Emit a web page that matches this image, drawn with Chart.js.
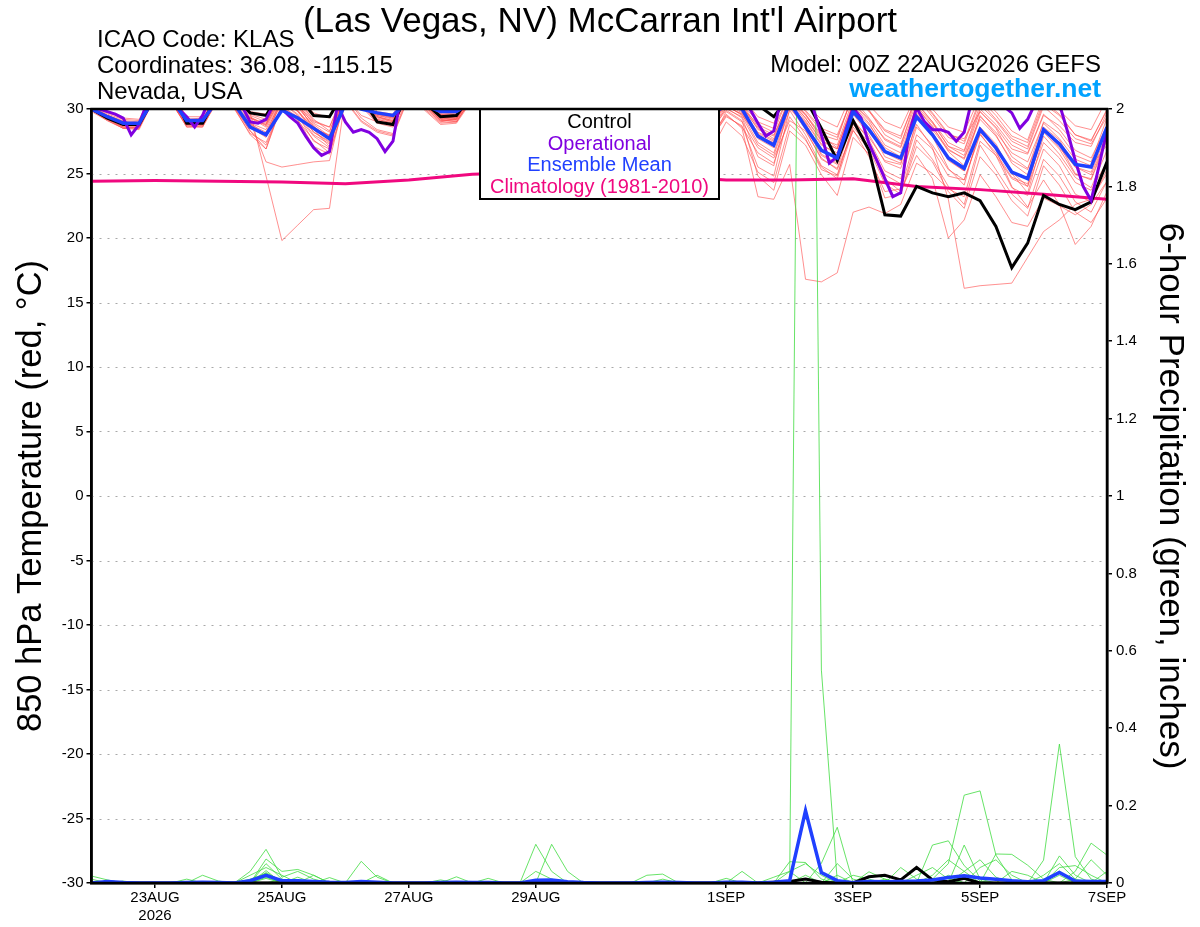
<!DOCTYPE html>
<html lang="en">
<head>
    <meta charset="UTF-8">
    <title>KLAS GEFS 850 hPa Temperature</title>
    <script src="https://cdn.jsdelivr.net/npm/chart.js"></script>
    <style>
        html, body { margin: 0; padding: 0; background: #fff; }
        .chart-box { width: 1200px; height: 927px; position: relative; }
    </style>
</head>
<body>
<div class="chart-box"><canvas id="meteogram" width="1200" height="927"></canvas></div>

<script>
    // forecast hours (6-hourly ensemble, 3-hourly operational, daily climatology)
    const HOURS_6H = Array.from({ length: 65 }, (_, i) => i * 6);
    const HOURS_3H = Array.from({ length: 129 }, (_, j) => j * 3);
    const HOURS_24H = Array.from({ length: 17 }, (_, d) => d * 24);

    const TICK_HOURS = [24, 72, 120, 168, 240, 288, 336, 384];
    const TICK_LABELS = [['23AUG', '2026'], '25AUG', '27AUG', '29AUG', '1SEP', '3SEP', '5SEP', '7SEP'];

    // 850 hPa temperature, deg C
    const CONTROL_T = [
        30.0, 29.3, 28.8, 28.8, 31.0, 31.5, 28.9, 28.9,
        31.2, 31.0, 29.7, 29.5, 31.5, 31.0, 29.5, 29.4,
        31.5, 31.0, 29.0, 28.8, 31.5, 30.5, 29.4, 29.5,
        31.2, 30.8, 29.8, 29.9, 31.3, 30.9, 29.7, 29.9,
        31.2, 30.7, 29.6, 29.8, 31.3, 30.8, 29.8, 30.2,
        31.0, 30.6, 30.3, 29.4, 31.0, 30.8, 28.5, 26.0,
        29.1, 26.8, 21.8, 21.7, 24.0, 23.5, 23.2, 23.5,
        22.9, 20.9, 17.7, 19.6, 23.3, 22.6, 22.2, 22.8,
        25.9
    ];
    const MEAN_T = [
        30.0, 29.4, 28.9, 28.9, 30.9, 30.8, 29.1, 29.1,
        30.8, 30.4, 28.6, 28.0, 29.9, 29.3, 28.5, 27.7,
        30.4, 30.0, 29.7, 29.5, 30.7, 30.3, 29.8, 29.8,
        30.6, 30.2, 29.5, 29.6, 30.7, 30.2, 29.4, 29.6,
        30.6, 30.1, 29.3, 29.5, 30.7, 30.2, 29.2, 29.5,
        30.3, 30.0, 27.9, 27.2, 30.5, 28.6, 26.8, 26.2,
        29.8, 28.4, 26.7, 26.2, 29.4, 28.0, 26.2, 25.4,
        28.4, 27.0, 25.1, 24.6, 28.4, 27.3, 25.7, 25.5,
        28.6
    ];
    const OPERATIONAL_T = [
        30.2, 30.0, 29.8, 29.6, 29.3, 28.0, 28.8, 30.5, 31.2, 31.5,
        31.0, 30.0, 29.4, 28.6, 29.5, 31.0, 31.8, 31.5, 31.0, 30.2,
        29.0, 28.9, 29.2, 30.4, 30.0, 29.4, 28.9, 27.9, 27.0, 26.4,
        26.7, 30.3, 29.0, 28.2, 28.4, 28.2, 27.7, 26.7, 27.5, 31.0,
        31.8, 31.6, 31.0, 30.4, 30.1, 29.9, 29.9, 30.4, 31.2, 31.0,
        30.4, 29.8, 29.5, 29.6, 30.2, 31.0, 31.5, 31.3, 30.8, 30.0,
        29.4, 29.2, 29.5, 30.3, 31.2, 31.5, 31.1, 30.5, 29.8, 29.3,
        29.1, 29.6, 30.5, 31.3, 31.4, 31.0, 30.2, 29.6, 29.4, 29.8,
        31.5, 31.2, 30.6, 30.0, 28.9, 27.9, 28.3, 31.0, 31.6, 31.4,
        30.8, 30.0, 28.0, 25.8, 26.3, 28.2, 30.1, 29.3, 27.3, 26.0,
        24.6, 23.2, 23.5, 28.0, 30.1, 29.0, 28.4, 28.4, 28.2, 27.5,
        28.2, 30.8, 31.5, 31.6, 31.0, 30.2, 29.7, 28.5, 29.2, 30.5,
        31.4, 31.2, 30.4, 28.3, 26.0, 24.0, 22.9, 25.6, 28.4
    ];
    const CLIMO_T = [24.4, 24.45, 24.4, 24.35, 24.2, 24.5, 24.95, 25.1, 25.0, 24.8, 24.5, 24.5, 24.6, 24.0, 23.75, 23.4, 23.0];

    const TEMP_MEMBERS = [
        [30.1, 29.4, 28.9, 28.7, 31.2, 31.0, 28.8, 29.0, 31.3, 30.8, 29.6, 29.2, 31.4, 30.5, 29.0, 28.6,
         31.6, 30.9, 29.4, 29.1, 31.5, 30.4, 29.3, 29.2, 31.2, 30.6, 29.5, 29.6, 31.4, 30.8, 29.3, 29.5,
         31.0, 30.5, 28.9, 29.2, 31.2, 30.7, 29.4, 29.8, 30.9, 30.3, 28.4, 27.9, 30.8, 29.3, 27.5, 26.9,
         30.4, 29.1, 27.2, 26.6, 30.1, 28.6, 26.9, 26.1, 29.2, 27.9, 26.0, 25.3, 29.0, 28.1, 26.4, 25.9, 29.3],
        [29.9, 29.2, 28.6, 28.6, 31.0, 30.6, 28.7, 28.8, 30.9, 30.2, 28.3, 27.2, 30.2, 29.4, 27.9, 27.0,
         31.0, 29.3, 28.4, 28.1, 31.2, 30.1, 29.0, 29.3, 31.0, 30.2, 28.8, 29.0, 30.8, 30.1, 28.5, 28.8,
         30.6, 29.8, 28.2, 28.5, 30.9, 30.1, 28.8, 29.1, 30.2, 29.6, 27.4, 26.6, 30.2, 28.4, 26.1, 25.4,
         29.2, 27.6, 25.2, 24.6, 28.6, 27.2, 25.3, 24.5, 28.0, 26.6, 24.7, 24.2, 28.2, 26.9, 24.9, 24.6, 27.8],
        [30.0, 29.5, 29.0, 28.9, 31.1, 30.9, 29.0, 29.1, 31.0, 30.6, 29.7, 24.8, 19.8, 21.0, 22.2, 22.3,
         31.0, 30.6, 29.2, 28.9, 31.0, 30.3, 29.4, 29.5, 31.3, 30.9, 29.8, 29.7, 31.6, 31.0, 30.2, 29.9,
         31.4, 30.6, 29.5, 29.8, 31.1, 30.5, 29.6, 29.9, 30.7, 30.1, 28.8, 28.2, 31.2, 29.8, 28.3, 27.8,
         31.1, 29.9, 28.4, 27.9, 30.9, 29.4, 27.8, 27.3, 30.6, 29.2, 27.7, 27.1, 30.4, 29.5, 28.0, 27.5, 30.0],
        [30.2, 29.4, 28.8, 28.8, 31.3, 31.0, 28.9, 28.7, 31.0, 30.4, 29.0, 25.9, 25.5, 25.7, 25.9, 26.0,
         31.0, 30.6, 29.5, 29.3, 31.4, 30.6, 29.6, 29.4, 31.2, 30.5, 29.6, 29.7, 31.1, 30.4, 29.4, 29.8,
         31.0, 30.2, 29.1, 29.5, 31.0, 30.3, 28.6, 27.8, 29.6, 28.5, 23.2, 23.0, 25.7, 16.8, 16.6, 17.3,
         22.0, 22.4, 21.9, 22.6, 25.8, 25.0, 23.8, 23.2, 27.5, 26.4, 24.6, 24.0, 28.4, 27.0, 25.5, 24.9, 27.8],
        [30.0, 29.3, 28.7, 28.7, 31.0, 30.8, 29.1, 29.0, 30.9, 30.3, 28.9, 28.4, 31.0, 30.1, 28.7, 27.6,
         30.8, 30.2, 28.9, 28.6, 31.1, 30.2, 29.2, 29.0, 30.9, 30.3, 29.0, 29.3, 31.2, 30.5, 29.2, 29.4,
         31.0, 30.4, 29.2, 29.5, 31.2, 30.4, 29.0, 29.1, 30.5, 29.8, 27.7, 27.0, 30.4, 28.9, 26.5, 25.8,
         29.6, 28.0, 25.9, 25.4, 28.8, 27.0, 23.0, 16.1, 16.3, 16.4, 16.5, 18.5, 20.5, 21.4, 22.6, 23.0, 25.0],
        [30.1, 29.5, 29.1, 29.0, 31.4, 31.2, 29.2, 29.1, 31.3, 30.7, 29.3, 28.9, 31.2, 30.4, 28.4, 27.1,
         31.3, 30.7, 29.6, 29.3, 31.4, 30.5, 29.5, 29.6, 31.3, 30.6, 29.5, 29.6, 31.2, 30.6, 29.6, 29.8,
         31.4, 30.8, 29.9, 30.1, 31.5, 30.9, 29.8, 29.9, 30.8, 30.1, 28.5, 27.7, 30.9, 29.5, 27.9, 27.0,
         30.3, 28.9, 26.8, 26.1, 29.6, 28.2, 26.1, 25.2, 28.4, 26.8, 24.0, 22.4, 24.5, 22.6, 19.5, 20.9, 23.6],
        [29.9, 29.2, 28.6, 28.5, 31.0, 30.7, 28.6, 28.7, 31.0, 30.6, 28.6, 27.8, 30.8, 29.9, 28.2, 27.4,
         31.2, 30.5, 29.1, 28.8, 31.2, 30.3, 29.1, 29.2, 31.0, 30.4, 29.2, 29.3, 31.1, 30.4, 29.1, 29.3,
         30.9, 30.2, 28.9, 29.2, 30.8, 30.2, 28.9, 28.6, 30.0, 29.4, 27.2, 26.4, 29.9, 28.0, 25.6, 24.9,
         28.6, 27.1, 24.6, 23.6, 26.4, 24.6, 20.0, 21.4, 24.9, 23.2, 21.2, 20.9, 23.1, 22.5, 21.8, 22.6, 24.4],
        [30.3, 29.7, 29.3, 29.2, 31.6, 31.4, 29.4, 29.4, 31.5, 31.0, 29.8, 29.6, 31.7, 31.1, 29.7, 29.3,
         31.8, 31.2, 29.8, 29.6, 31.7, 30.8, 29.7, 29.9, 31.6, 31.0, 30.0, 30.1, 31.7, 31.1, 30.2, 30.3,
         31.8, 31.2, 30.4, 30.5, 31.9, 31.3, 30.5, 30.4, 31.4, 30.9, 29.4, 28.9, 31.6, 30.4, 29.2, 28.6,
         31.5, 30.3, 29.0, 28.5, 31.2, 30.0, 28.6, 28.2, 31.0, 29.8, 28.3, 27.6, 30.9, 29.9, 28.7, 28.4, 30.8],
        [30.0, 29.2, 28.5, 28.4, 30.9, 30.6, 28.6, 28.6, 30.8, 30.1, 28.0, 26.9, 30.3, 29.2, 27.1, 26.5,
         30.6, 29.0, 28.2, 27.9, 30.9, 29.9, 28.8, 28.9, 30.7, 30.0, 28.7, 28.9, 30.8, 30.0, 28.6, 28.8,
         30.6, 29.9, 28.5, 28.7, 30.7, 30.0, 28.3, 27.6, 29.5, 28.6, 26.6, 25.8, 29.4, 27.7, 25.3, 24.8,
         28.8, 27.4, 24.9, 24.2, 29.3, 27.9, 25.4, 24.1, 28.6, 27.3, 25.0, 23.5, 27.9, 26.5, 24.7, 23.9, 26.8],
        [30.2, 29.6, 29.2, 29.1, 31.4, 31.1, 29.1, 29.2, 31.3, 30.8, 29.5, 29.0, 31.3, 30.7, 29.2, 28.3,
         31.5, 30.9, 29.6, 29.4, 31.6, 30.7, 29.6, 29.7, 31.2, 30.5, 29.6, 29.7, 31.4, 30.8, 29.8, 30.0,
         31.5, 30.9, 29.9, 30.1, 31.3, 30.6, 29.4, 29.6, 31.0, 30.4, 28.6, 28.0, 30.6, 29.6, 27.7, 27.2,
         30.8, 29.3, 27.6, 27.0, 30.2, 28.9, 27.1, 26.4, 29.8, 28.6, 26.9, 26.5, 29.5, 28.7, 27.4, 27.1, 29.7],
        [29.8, 29.1, 28.5, 28.6, 30.8, 30.5, 28.8, 28.9, 31.0, 30.4, 28.6, 28.1, 30.9, 29.9, 28.4, 28.0,
         30.9, 30.3, 29.0, 28.7, 31.2, 30.3, 29.1, 29.1, 30.8, 30.1, 28.8, 28.9, 30.9, 30.2, 28.8, 29.0,
         30.8, 30.0, 28.7, 28.9, 30.6, 29.9, 28.1, 27.4, 29.8, 29.0, 27.0, 26.2, 29.1, 28.3, 26.2, 25.3,
         28.3, 26.9, 24.2, 23.4, 27.6, 26.1, 24.0, 22.6, 27.2, 25.3, 23.4, 22.3, 26.1, 24.8, 22.8, 22.0, 24.4],
        [30.1, 29.4, 28.8, 28.9, 31.2, 30.9, 29.0, 28.9, 31.1, 30.7, 29.4, 28.7, 31.0, 30.3, 28.9, 28.2,
         31.4, 30.6, 29.3, 29.0, 31.3, 30.6, 29.4, 29.3, 31.1, 30.5, 29.3, 29.4, 31.0, 30.3, 29.2, 29.4,
         31.2, 30.5, 29.4, 29.6, 31.1, 30.4, 29.1, 28.7, 30.3, 29.5, 27.9, 27.4, 30.6, 29.1, 27.3, 26.4,
         29.9, 28.5, 26.3, 25.8, 30.1, 28.7, 26.7, 25.6, 29.5, 28.0, 25.8, 24.9, 28.6, 27.6, 25.5, 25.1, 28.1],
        [30.0, 29.3, 28.9, 28.8, 31.1, 30.8, 28.9, 29.1, 31.0, 30.2, 28.9, 28.0, 30.5, 29.6, 28.0, 27.3,
         31.0, 30.4, 29.2, 28.9, 31.3, 30.4, 29.3, 29.4, 31.0, 30.3, 29.1, 29.2, 31.2, 30.4, 29.0, 29.1,
         31.0, 30.4, 29.1, 29.2, 30.9, 30.1, 28.4, 27.6, 29.4, 28.7, 25.5, 24.8, 30.0, 28.8, 26.9, 26.2,
         29.0, 27.8, 26.0, 25.7, 29.7, 28.4, 26.8, 26.2, 29.4, 28.2, 26.6, 25.9, 28.9, 27.7, 26.1, 25.6, 27.2],
        [30.2, 29.5, 29.0, 28.9, 31.3, 31.0, 29.2, 29.2, 31.2, 30.5, 28.7, 27.9, 30.7, 29.8, 28.6, 27.9,
         31.1, 30.6, 29.5, 29.2, 31.5, 30.7, 29.5, 29.5, 31.3, 30.6, 29.6, 29.8, 31.5, 30.9, 29.7, 29.9,
         31.3, 30.7, 29.6, 29.8, 31.2, 30.5, 29.2, 28.9, 30.4, 29.7, 28.1, 27.5, 30.3, 29.0, 27.2, 26.6,
         30.0, 28.8, 27.0, 26.3, 29.9, 28.1, 26.0, 25.2, 28.2, 27.0, 25.1, 24.0, 27.4, 26.2, 24.3, 23.7, 25.9],
        [30.0, 29.3, 28.6, 28.6, 31.0, 30.8, 28.9, 28.8, 30.9, 30.1, 28.3, 26.9, 30.5, 29.5, 27.5, 26.9,
         31.0, 29.5, 29.0, 28.8, 31.1, 30.2, 29.0, 29.0, 30.9, 30.2, 28.9, 29.1, 31.0, 30.3, 28.9, 29.0,
         30.9, 30.2, 28.8, 29.0, 30.8, 30.0, 28.6, 28.3, 29.9, 29.1, 24.8, 23.7, 28.3, 27.2, 24.9, 23.3,
         27.8, 26.5, 23.1, 23.4, 27.1, 25.9, 23.6, 22.3, 26.3, 24.9, 22.9, 21.7, 25.6, 24.1, 22.0, 21.2, 23.1],
        [30.1, 29.4, 28.7, 28.7, 31.2, 31.0, 29.1, 29.0, 31.1, 30.5, 29.1, 28.8, 31.3, 30.4, 28.8, 27.9,
         31.3, 30.7, 29.4, 29.0, 31.3, 30.5, 29.3, 29.2, 31.1, 30.4, 29.3, 29.5, 31.3, 30.6, 29.5, 29.7,
         31.1, 30.5, 29.3, 29.5, 31.0, 30.4, 29.0, 28.5, 30.2, 29.6, 28.0, 27.3, 31.0, 29.6, 28.0, 27.6,
         31.3, 29.9, 28.0, 27.3, 30.5, 29.0, 27.4, 26.8, 30.3, 29.1, 27.5, 26.9, 30.2, 29.1, 27.7, 27.3, 29.4],
        [29.9, 29.1, 28.5, 28.5, 30.9, 30.6, 28.7, 28.6, 30.8, 30.0, 28.1, 27.4, 30.2, 29.1, 27.6, 26.6,
         30.7, 29.1, 28.3, 28.0, 31.0, 30.0, 28.9, 29.0, 30.8, 30.0, 28.8, 29.0, 30.9, 30.1, 28.7, 28.9,
         30.7, 30.0, 28.6, 28.7, 30.5, 29.7, 27.6, 26.7, 29.0, 27.9, 25.1, 24.3, 28.8, 27.6, 25.5, 24.6,
         28.4, 26.3, 23.6, 23.8, 28.0, 26.9, 24.8, 24.5, 28.1, 26.4, 23.9, 23.3, 26.9, 25.6, 23.4, 22.8, 25.3],
        [30.1, 29.5, 29.0, 28.9, 31.2, 31.0, 29.0, 29.1, 31.2, 30.6, 29.3, 28.6, 31.1, 30.2, 28.6, 27.8,
         31.2, 30.5, 29.4, 29.1, 31.4, 30.6, 29.4, 29.3, 31.2, 30.5, 29.4, 29.6, 31.3, 30.6, 29.4, 29.6,
         31.2, 30.5, 29.4, 29.6, 31.1, 30.5, 29.0, 28.8, 30.6, 29.9, 28.2, 27.6, 30.4, 28.6, 26.4, 25.7,
         29.6, 28.3, 26.6, 26.0, 30.4, 29.0, 27.1, 26.7, 30.0, 28.8, 27.2, 26.6, 29.6, 28.4, 26.8, 26.2, 28.7],
        [30.0, 29.3, 28.8, 28.7, 31.1, 30.9, 28.8, 28.9, 31.0, 30.3, 28.8, 28.2, 30.8, 29.8, 28.2, 27.5,
         30.9, 30.3, 29.1, 28.7, 31.2, 30.4, 29.2, 29.2, 31.0, 30.2, 29.0, 29.1, 31.0, 30.3, 29.0, 29.2,
         31.0, 30.3, 29.0, 29.2, 30.9, 30.2, 28.7, 28.1, 30.1, 29.3, 26.3, 25.6, 30.6, 29.3, 27.6, 26.9,
         30.5, 29.2, 27.7, 27.1, 31.0, 29.6, 28.0, 27.7, 29.8, 28.5, 26.3, 25.4, 28.3, 27.2, 25.0, 24.5, 27.6],
        [30.2, 29.5, 28.9, 28.8, 31.3, 31.1, 29.2, 29.3, 31.2, 30.6, 29.3, 28.8, 31.4, 30.7, 29.1, 28.6,
         31.4, 30.8, 29.6, 29.4, 31.5, 30.7, 29.6, 29.6, 31.4, 30.8, 29.8, 29.9, 31.5, 30.9, 29.9, 30.0,
         31.4, 30.8, 29.7, 29.9, 31.3, 30.7, 29.5, 29.4, 31.1, 30.4, 29.0, 28.5, 31.2, 29.9, 28.5, 28.0,
         31.0, 29.8, 28.3, 27.7, 31.1, 29.7, 28.1, 27.5, 30.8, 29.5, 27.9, 27.4, 30.6, 29.6, 28.0, 27.6, 29.9]
    ];

    // 6-hour precipitation, inches
    const CONTROL_P = [
        0, 0, 0, 0, 0, 0, 0, 0, 0, 0, 0, 0, 0,
        0, 0, 0, 0, 0, 0, 0, 0, 0, 0, 0, 0, 0,
        0, 0, 0, 0, 0, 0, 0, 0, 0, 0, 0, 0, 0,
        0, 0, 0, 0, 0.002, 0.004, 0.010, 0.002, 0, 0, 0.016, 0.020, 0.008,
        0.040, 0.008, 0.003, 0.012, 0, 0, 0, 0, 0, 0, 0, 0, 0
    ];
    const MEAN_P = [
        0, 0.004, 0.001, 0, 0, 0, 0.001, 0.002, 0.001, 0, 0.006, 0.020, 0.006,
        0.006, 0.004, 0.002, 0.001, 0.004, 0.002, 0, 0, 0, 0.001, 0.002, 0.001, 0.001,
        0, 0, 0.007, 0.008, 0.003, 0.001, 0, 0, 0, 0.001, 0.002, 0.001, 0,
        0, 0.002, 0.002, 0, 0.002, 0.006, 0.187, 0.027, 0.006, 0.001, 0.004, 0.003, 0.004,
        0.005, 0.008, 0.014, 0.019, 0.013, 0.010, 0.006, 0.003, 0.006, 0.027, 0.005, 0.004, 0.004
    ];
    const PRECIP_MEMBERS = [
        [0.018, 0.008, 0, 0, 0, 0, 0, 0, 0, 0, 0.030, 0.087, 0.015,
         0.030, 0.010, 0, 0, 0, 0, 0, 0, 0, 0, 0, 0, 0,
         0, 0, 0.100, 0.030, 0, 0, 0, 0, 0, 0, 0, 0, 0,
         0, 0, 0, 0, 0, 0.055, 0.053, 0.010, 0, 0, 0, 0, 0,
         0, 0.098, 0.109, 0.045, 0.005, 0, 0, 0, 0, 0, 0, 0, 0],
        [0, 0, 0, 0, 0, 0, 0, 0, 0, 0, 0, 0.012, 0,
         0, 0, 0, 0, 0, 0, 0, 0, 0, 0, 0, 0, 0,
         0, 0, 0, 0, 0, 0, 0, 0, 0, 0, 0, 0, 0,
         0, 0, 0, 0, 0, 0.005, 4.6, 0.55, 0.005, 0, 0, 0, 0,
         0, 0, 0, 0.020, 0, 0, 0, 0, 0, 0, 0, 0, 0],
        [0, 0, 0, 0, 0, 0, 0, 0, 0, 0, 0, 0.062, 0.030,
         0.035, 0.020, 0, 0, 0.056, 0.015, 0, 0, 0, 0, 0, 0, 0,
         0, 0, 0, 0.100, 0.030, 0, 0, 0, 0, 0, 0, 0, 0,
         0, 0, 0, 0, 0, 0, 0, 0.051, 0.144, 0, 0, 0, 0,
         0, 0.010, 0.050, 0.227, 0.238, 0.072, 0.008, 0, 0, 0, 0, 0, 0],
        [0, 0, 0, 0, 0, 0, 0, 0.020, 0.005, 0, 0, 0.050, 0.010,
         0, 0, 0, 0, 0, 0, 0, 0, 0, 0, 0.016, 0, 0,
         0, 0, 0, 0, 0, 0, 0, 0, 0, 0.020, 0.023, 0, 0,
         0, 0, 0.030, 0, 0, 0, 0, 0, 0, 0, 0.029, 0.010, 0,
         0, 0, 0, 0, 0, 0.075, 0.074, 0.046, 0.010, 0, 0, 0, 0],
        [0, 0, 0, 0, 0, 0, 0, 0, 0, 0, 0, 0.027, 0.005,
         0, 0, 0.014, 0, 0, 0, 0, 0, 0, 0, 0, 0, 0.012,
         0, 0, 0, 0, 0, 0, 0, 0, 0, 0, 0, 0, 0,
         0, 0.012, 0, 0, 0, 0, 0, 0, 0, 0, 0, 0, 0.040,
         0.010, 0, 0, 0, 0, 0, 0, 0, 0.059, 0.359, 0.068, 0.010, 0],
        [0, 0, 0, 0, 0, 0, 0, 0, 0, 0, 0.020, 0.040, 0.020,
         0, 0, 0, 0, 0, 0.020, 0, 0, 0, 0, 0, 0, 0,
         0, 0, 0.030, 0.010, 0, 0, 0, 0, 0, 0, 0, 0, 0,
         0, 0, 0, 0, 0, 0, 0, 0, 0, 0, 0, 0, 0,
         0, 0, 0, 0.098, 0.010, 0, 0, 0, 0, 0, 0.030, 0.103, 0.072],
        [0.010, 0, 0, 0, 0, 0, 0.010, 0, 0, 0, 0, 0.032, 0,
         0, 0, 0, 0, 0, 0, 0, 0, 0, 0, 0, 0, 0,
         0, 0, 0, 0, 0, 0, 0, 0, 0, 0, 0, 0, 0,
         0, 0, 0, 0, 0, 0.030, 0.050, 0.020, 0, 0, 0, 0, 0,
         0.020, 0.040, 0.010, 0, 0, 0, 0, 0, 0, 0.070, 0.020, 0, 0.030],
        [0, 0, 0, 0, 0, 0, 0, 0, 0, 0, 0, 0.020, 0,
         0.015, 0, 0, 0, 0, 0, 0, 0, 0, 0.008, 0, 0, 0,
         0, 0, 0, 0, 0, 0, 0, 0, 0, 0, 0, 0, 0,
         0, 0, 0, 0, 0, 0, 0, 0, 0, 0, 0, 0, 0,
         0, 0.020, 0.060, 0.030, 0, 0, 0, 0, 0.020, 0.050, 0.010, 0, 0],
        [0, 0, 0, 0, 0, 0, 0, 0, 0, 0, 0, 0, 0.010,
         0, 0.020, 0, 0, 0, 0, 0, 0, 0, 0, 0, 0, 0,
         0, 0, 0, 0, 0, 0, 0, 0, 0, 0, 0, 0, 0,
         0, 0, 0, 0, 0.015, 0.030, 0, 0, 0, 0, 0, 0, 0,
         0, 0, 0, 0, 0.040, 0.060, 0.020, 0, 0, 0.040, 0.045, 0.020, 0],
        [0, 0, 0, 0, 0, 0, 0, 0, 0, 0, 0, 0.015, 0,
         0, 0, 0, 0, 0, 0, 0, 0, 0, 0, 0, 0, 0,
         0, 0, 0, 0, 0, 0, 0, 0, 0, 0, 0, 0, 0,
         0, 0, 0, 0, 0, 0, 0.020, 0, 0.050, 0.010, 0, 0, 0,
         0, 0, 0, 0.030, 0.060, 0.015, 0, 0, 0, 0, 0.010, 0.060, 0.020],
        [0, 0, 0.005, 0, 0, 0, 0, 0, 0, 0, 0.010, 0.025, 0,
         0, 0, 0, 0, 0, 0, 0, 0, 0, 0, 0, 0, 0,
         0, 0, 0, 0, 0, 0, 0, 0, 0, 0, 0, 0, 0,
         0, 0, 0, 0, 0, 0, 0, 0, 0, 0.020, 0.010, 0, 0,
         0, 0, 0.020, 0, 0, 0, 0.030, 0.020, 0, 0.020, 0, 0, 0],
        [0, 0, 0, 0, 0, 0, 0, 0, 0, 0, 0, 0, 0,
         0, 0, 0, 0, 0, 0, 0, 0, 0, 0, 0, 0, 0,
         0, 0, 0, 0, 0, 0, 0, 0, 0, 0, 0.010, 0, 0,
         0, 0, 0, 0, 0, 0, 0, 0, 0.020, 0, 0, 0.010, 0,
         0, 0, 0, 0.015, 0, 0, 0, 0, 0, 0.030, 0, 0, 0]
    ];

    const LEGEND_ITEMS = [
        ['Control', '#000000'],
        ['Operational', '#8000e0'],
        ['Ensemble Mean', '#2040ff'],
        ['Climatology (1981-2010)', '#f0087f']
    ];

    const FONT = "'Liberation Sans', Arial, Helvetica, sans-serif";
    Chart.defaults.font.family = FONT;

    const toPoints = (hours, values) => values.map((v, i) => ({ x: hours[i], y: v }));

    const line = (data, color, width, axis, order) => ({
        data: data,
        borderColor: color,
        borderWidth: width,
        yAxisID: axis,
        order: order,
        pointRadius: 0,
        tension: 0,
        fill: false
    });

    const datasets = [];
    TEMP_MEMBERS.forEach(m => datasets.push(line(toPoints(HOURS_6H, m), 'rgba(255, 80, 80, 0.8)', 0.8, 'y', 30)));
    PRECIP_MEMBERS.forEach(m => datasets.push(line(toPoints(HOURS_6H, m), '#40dc40', 0.8, 'y2', 25)));
    datasets.push(line(toPoints(HOURS_24H, CLIMO_T), '#f0087f', 3, 'y', 10));
    datasets.push(line(toPoints(HOURS_6H, CONTROL_P), '#000000', 3, 'y2', 9));
    datasets.push(line(toPoints(HOURS_6H, CONTROL_T), '#000000', 3, 'y', 8));
    datasets.push(line(toPoints(HOURS_3H, OPERATIONAL_T), '#8000e0', 3, 'y', 7));
    datasets.push(line(toPoints(HOURS_6H, MEAN_T), '#2040ff', 3.5, 'y', 6));
    datasets.push(line(toPoints(HOURS_6H, MEAN_P), '#2040ff', 3.5, 'y2', 5));

    // dotted grid, legend box, frame and all the surrounding labels
    const decorations = {
        id: 'decorations',
        beforeDatasetsDraw(chart) {
            const { ctx, chartArea: a, scales } = chart;
            ctx.save();
            ctx.strokeStyle = '#a8a8a8';
            ctx.lineWidth = 1;
            ctx.setLineDash([2, 6]);
            scales.y.ticks.forEach(t => {
                if (t.value <= scales.y.min || t.value >= scales.y.max) return;
                const y = Math.round(scales.y.getPixelForValue(t.value)) + 0.5;
                ctx.beginPath();
                ctx.moveTo(a.left, y);
                ctx.lineTo(a.right, y);
                ctx.stroke();
            });
            ctx.restore();
        },
        afterDatasetsDraw(chart) {
            const { ctx, chartArea: a } = chart;
            ctx.save();
            // legend
            ctx.fillStyle = '#fff';
            ctx.fillRect(480, a.top, 239, 90);
            ctx.strokeStyle = '#000';
            ctx.lineWidth = 2;
            ctx.strokeRect(480, a.top, 239, 90);
            ctx.font = '20px ' + FONT;
            ctx.textAlign = 'center';
            ctx.textBaseline = 'alphabetic';
            LEGEND_ITEMS.forEach(([text, color], i) => {
                ctx.fillStyle = color;
                ctx.fillText(text, 599.5, 128 + i * 21.5);
            });
            // frame
            ctx.lineWidth = 2.5;
            ctx.strokeRect(a.left, a.top, a.right - a.left, a.bottom - a.top);
            ctx.restore();
        },
        afterDraw(chart) {
            const { ctx, chartArea: a } = chart;
            ctx.save();
            ctx.fillStyle = '#000';
            ctx.textBaseline = 'alphabetic';

            ctx.font = '35px ' + FONT;
            ctx.textAlign = 'center';
            ctx.fillText("(Las Vegas, NV) McCarran Int'l Airport", 600, 32);

            ctx.font = '24px ' + FONT;
            ctx.textAlign = 'left';
            ctx.fillText('ICAO Code: KLAS', 97, 47);
            ctx.fillText('Coordinates: 36.08, -115.15', 97, 73);
            ctx.fillText('Nevada, USA', 97, 99);

            ctx.textAlign = 'right';
            ctx.fillText('Model: 00Z 22AUG2026 GEFS', 1101, 72);
            ctx.font = 'bold 26.5px ' + FONT;
            ctx.fillStyle = '#00a2ff';
            ctx.fillText('weathertogether.net', 1101, 97);

            const midY = (a.top + a.bottom) / 2;
            ctx.fillStyle = '#000';
            ctx.font = '34.5px ' + FONT;
            ctx.textAlign = 'center';
            ctx.textBaseline = 'middle';
            ctx.save();
            ctx.translate(31, midY);
            ctx.rotate(-Math.PI / 2);
            ctx.fillText('850 hPa Temperature (red, \u00B0C)', 0, 0);
            ctx.restore();

            ctx.save();
            ctx.translate(1170, midY);
            ctx.rotate(Math.PI / 2);
            ctx.font = '35px ' + FONT;
            ctx.fillText('6-hour Precipitation (green, inches)', 0, 0);
            ctx.restore();

            ctx.restore();
        }
    };

    const tickFont = { family: FONT, size: 15 };
    const tickGrid = { drawOnChartArea: false, drawTicks: true, tickLength: 5, color: '#000', lineWidth: 1.5 };
    const axisBorder = { display: true, color: '#000', width: 2.5 };

    new Chart(document.getElementById('meteogram').getContext('2d'), {
        type: 'line',
        data: { datasets: datasets },
        options: {
            responsive: false,
            animation: false,
            events: [],
            layout: { padding: { top: 109, left: 0, right: 0, bottom: 0 } },
            plugins: {
                legend: { display: false },
                tooltip: { enabled: false },
                title: { display: false }
            },
            scales: {
                x: {
                    type: 'linear',
                    min: 0,
                    max: 384,
                    afterBuildTicks: axis => { axis.ticks = TICK_HOURS.map(v => ({ value: v })); },
                    afterFit: axis => { axis.height = 44; },
                    ticks: {
                        autoSkip: false,
                        maxRotation: 0,
                        padding: 1,
                        color: '#000',
                        font: tickFont,
                        callback: (v, i) => TICK_LABELS[i]
                    },
                    grid: tickGrid,
                    border: axisBorder
                },
                y: {
                    position: 'left',
                    min: -30,
                    max: 30,
                    afterFit: axis => { axis.width = 91.5; },
                    ticks: { stepSize: 5, padding: 3, color: '#000', font: tickFont },
                    grid: tickGrid,
                    border: axisBorder
                },
                y2: {
                    position: 'right',
                    min: 0,
                    max: 2,
                    afterFit: axis => { axis.width = 93; },
                    ticks: {
                        stepSize: 0.2,
                        padding: 4,
                        color: '#000',
                        font: tickFont,
                        callback: v => String(Math.round(v * 10) / 10)
                    },
                    grid: tickGrid,
                    border: axisBorder
                }
            }
        },
        plugins: [decorations]
    });
</script>
</body>
</html>
